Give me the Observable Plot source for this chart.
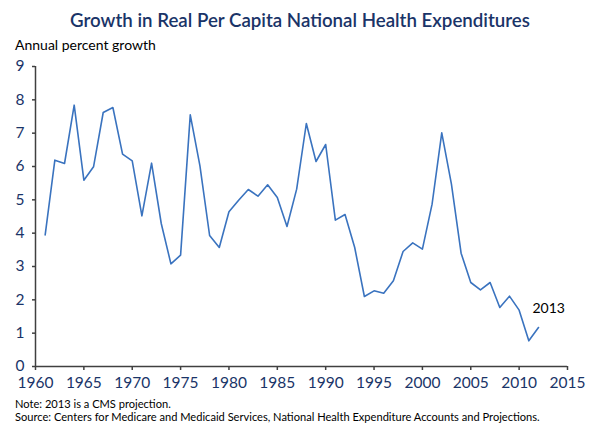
<!DOCTYPE html>
<html>
<head>
<meta charset="utf-8">
<script src="https://cdn.jsdelivr.net/npm/d3@7"></script>
<script src="https://cdn.jsdelivr.net/npm/@observablehq/plot@0.6"></script>
<style>
  html, body { margin: 0; padding: 0; background: #fff; }
  #wrap { position: relative; width: 600px; height: 437px; font-family: Lato, "Open Sans", sans-serif; overflow: hidden; }
  .abs { position: absolute; white-space: nowrap; }
  #title { left: 0; width: 600px; top: 9px; text-align: center; font-size: 18.7px; font-weight: 600; color: #1a3468; line-height: 22px; }
  #ylab { left: 15px; top: 36px; font-size: 14px; color: #000; line-height: 18px; }
  #chart { left: 0; top: 54px; }
  #note { left: 15px; top: 398px; font-size: 11.1px; color: #000; line-height: 12.5px; }
</style>
</head>
<body>
<div id="wrap">
  <div id="title" class="abs">Growth in Real Per Capita National Health Expenditures</div>
  <div id="ylab" class="abs">Annual percent growth</div>
  <div id="chart" class="abs"></div>
  <div id="note" class="abs">Note: 2013 is a CMS projection.<br>Source: Centers for Medicare and Medicaid Services, National Health Expenditure Accounts and Projections.</div>
</div>
<script>
const years = d3.range(1961, 2013);
const growth = [
  3.95, 6.19, 6.09, 7.84, 5.59, 5.99, 7.62, 7.77, 6.37, 6.17,
  4.52, 6.10, 4.29, 3.08, 3.34, 7.55, 6.02, 3.93, 3.57, 4.64,
  4.99, 5.31, 5.11, 5.45, 5.07, 4.20, 5.32, 7.29, 6.15, 6.66,
  4.39, 4.56, 3.57, 2.10, 2.27, 2.20, 2.57, 3.45, 3.71, 3.52,
  4.87, 7.01, 5.47, 3.40, 2.52, 2.30, 2.52, 1.77, 2.11, 1.69,
  0.77, 1.17
];
const xTicks = [1960, 1965, 1970, 1975, 1980, 1985, 1990, 1995, 2000, 2005, 2010, 2015];
const yTicks = [0, 1, 2, 3, 4, 5, 6, 7, 8, 9];
const annotation = ["2013"];

const data = years.map((y, i) => ({year: y, value: growth[i]}));
const last = data[data.length - 1];

const navy = "#1a3468";
const axisGray = "#404040";
const lineBlue = "#3a73bf";

const chart = Plot.plot({
  width: 600,
  height: 340,
  marginLeft: 35,
  marginRight: 33,
  marginTop: 12,
  marginBottom: 28,
  style: {fontFamily: "Lato, 'Open Sans', sans-serif", background: "transparent"},
  x: {domain: [1960, 2015], axis: null},
  y: {domain: [0, 9], axis: null},
  marks: [
    Plot.ruleX([1960], {stroke: axisGray, strokeWidth: 1.5}),
    Plot.ruleY([0], {stroke: axisGray, strokeWidth: 1.5}),
    Plot.axisX({ticks: xTicks, tickSize: 4, tickFormat: () => "", label: null, color: axisGray, strokeWidth: 1.5}),
    Plot.axisX({ticks: xTicks, tickSize: 0, tickPadding: 10, tickFormat: d => String(d), label: null, color: navy, fontSize: 15.5}),
    Plot.axisY({ticks: yTicks, tickSize: 3, tickFormat: () => "", label: null, color: axisGray, strokeWidth: 1.5}),
    Plot.axisY({ticks: yTicks, tickSize: 0, tickPadding: 11, tickFormat: d => String(d), label: null, color: navy, fontSize: 15.5}),
    Plot.line(data, {x: "year", y: "value", stroke: lineBlue, strokeWidth: 1.6}),
    Plot.text([last], {x: "year", y: "value", text: () => annotation[0], textAnchor: "start", dx: -6, dy: -19, fontSize: 14, fill: "#000"})
  ]
});
document.getElementById("chart").appendChild(chart);
</script>
</body>
</html>
